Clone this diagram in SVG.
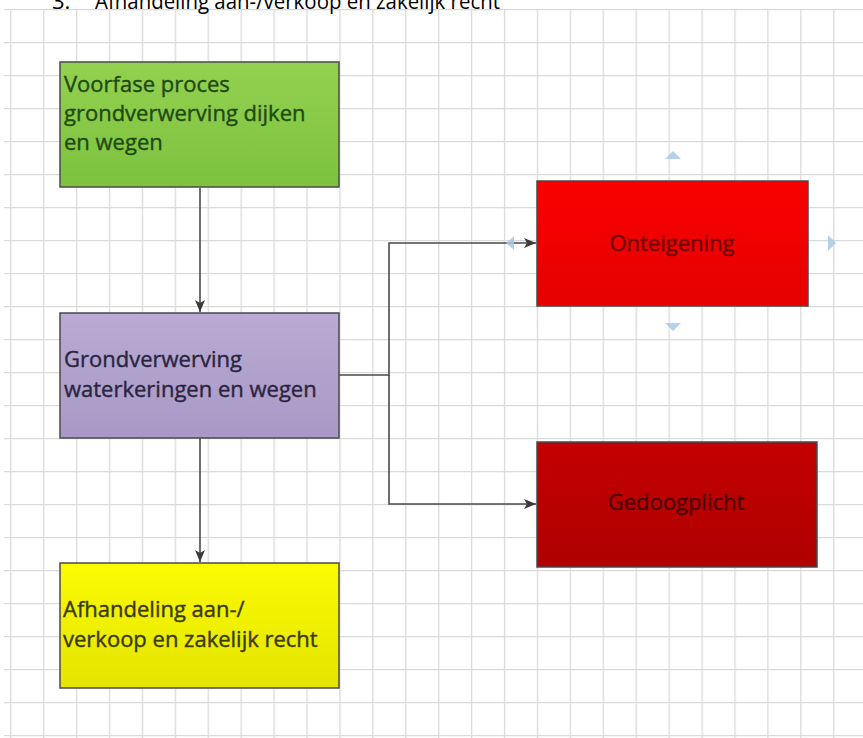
<svg xmlns="http://www.w3.org/2000/svg" width="863" height="738" viewBox="0 0 863 738">
  <style>
    .lbl { font-family: "Open Sans", "Liberation Sans", sans-serif; font-size: 22px; stroke-width: 0.4; }
    .box { stroke: #4a4a4a; stroke-width: 1.5; }
    .conn { fill: none; stroke: #4a4a4a; stroke-width: 1.6; }
    .hint { fill: #a9c7e6; opacity: 0.85; }
  </style>
  <defs>
    <pattern id="grid" patternUnits="userSpaceOnUse" x="10.1" y="9" width="32.92" height="33">
      <path d="M0.5 0 V33 M0 0.5 H32.92" stroke="#dadada" stroke-width="1.6" fill="none"/>
    </pattern>
    <linearGradient id="gGreen" x1="0" y1="0" x2="0" y2="1">
      <stop offset="0" stop-color="#93d150"/>
      <stop offset="1" stop-color="#7cc23f"/>
    </linearGradient>
    <linearGradient id="gPurple" x1="0" y1="0" x2="0" y2="1">
      <stop offset="0" stop-color="#b9abd3"/>
      <stop offset="1" stop-color="#a898c6"/>
    </linearGradient>
    <linearGradient id="gYellow" x1="0" y1="0" x2="0" y2="1">
      <stop offset="0" stop-color="#fbfb00"/>
      <stop offset="1" stop-color="#e4e400"/>
    </linearGradient>
    <linearGradient id="gRed" x1="0" y1="0" x2="0" y2="1">
      <stop offset="0" stop-color="#fa0000"/>
      <stop offset="1" stop-color="#e50000"/>
    </linearGradient>
    <linearGradient id="gDark" x1="0" y1="0" x2="0" y2="1">
      <stop offset="0" stop-color="#c40000"/>
      <stop offset="1" stop-color="#b00000"/>
    </linearGradient>
    <marker id="arr" viewBox="0 0 12 10" refX="12" refY="5" markerWidth="12" markerHeight="10" markerUnits="userSpaceOnUse" orient="auto">
      <path d="M0 0 L12 5 L0 10 L3 5 Z" fill="#3a3a3a"/>
    </marker>
  </defs>

  <rect x="0" y="0" width="863" height="738" fill="#ffffff"/>
  <rect x="4" y="9" width="859" height="729" fill="url(#grid)"/>

  <text x="52" y="9" font-family="Open Sans, Liberation Sans, sans-serif" font-size="22" fill="#000">3.<tspan x="95" textLength="405" lengthAdjust="spacingAndGlyphs">Afhandeling aan-/verkoop en zakelijk recht</tspan></text>

  <g id="connectors">
    <line class="conn" x1="200" y1="188" x2="200" y2="312" marker-end="url(#arr)"/>
    <line class="conn" x1="200" y1="438" x2="200" y2="562" marker-end="url(#arr)"/>
    <polyline class="conn" points="339,375 389,375 389,243 536,243" marker-end="url(#arr)"/>
    <polyline class="conn" points="389,375 389,504 536,504" marker-end="url(#arr)"/>
  </g>

  <g id="node-voorfase">
    <rect class="box" x="60" y="62" width="279" height="125" fill="url(#gGreen)"/>
    <text class="lbl" x="64" y="92" fill="#1f4a12" stroke="#1f4a12">Voorfase proces</text>
    <text class="lbl" x="64" y="121" fill="#1f4a12" stroke="#1f4a12">grondverwerving dijken</text>
    <text class="lbl" x="64" y="150" fill="#1f4a12" stroke="#1f4a12">en wegen</text>
  </g>

  <g id="node-grondverwerving">
    <rect class="box" x="60" y="313" width="279" height="125" fill="url(#gPurple)"/>
    <text class="lbl" x="64" y="367" fill="#2a2540" stroke="#2a2540">Grondverwerving</text>
    <text class="lbl" x="64" y="397" fill="#2a2540" stroke="#2a2540">waterkeringen en wegen</text>
  </g>

  <g id="node-afhandeling">
    <rect class="box" x="60" y="563" width="279" height="125" fill="url(#gYellow)"/>
    <text class="lbl" x="63" y="617" fill="#3b3a10" stroke="#3b3a10">Afhandeling aan-/</text>
    <text class="lbl" x="63" y="647" fill="#3b3a10" stroke="#3b3a10">verkoop en zakelijk recht</text>
  </g>

  <g id="node-onteigening">
    <rect class="box" x="537" y="181" width="271" height="125" fill="url(#gRed)"/>
    <text class="lbl" x="672" y="251" text-anchor="middle" fill="#6e0505" stroke="#6e0505">Onteigening</text>
  </g>

  <g id="node-gedoogplicht">
    <rect class="box" x="537" y="442" width="280" height="125" fill="url(#gDark)"/>
    <text class="lbl" x="676" y="510" text-anchor="middle" fill="#4a0000" stroke="#4a0000">Gedoogplicht</text>
  </g>

  <g id="hints">
    <path class="hint" d="M665 159 L673 151 L681 159 Z"/>
    <path class="hint" d="M665 323 L673 331 L681 323 Z"/>
    <path class="hint" d="M828 235 L836 243 L828 251 Z"/>
    <path class="hint" d="M514 236 L506 243 L514 250 Z"/>
  </g>
</svg>
